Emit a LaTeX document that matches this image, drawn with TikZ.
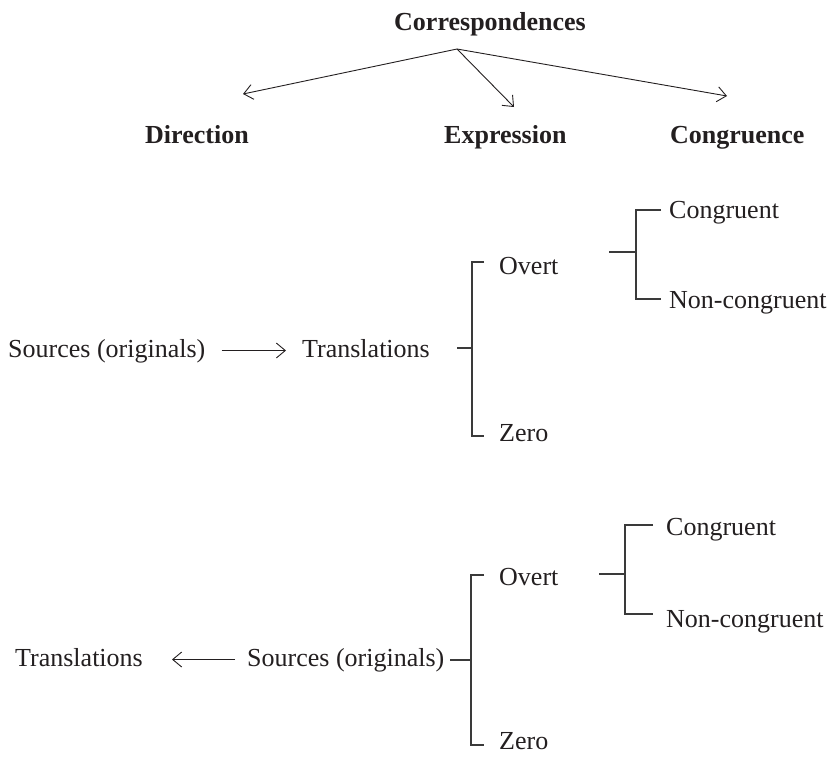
\documentclass[tikz,border=0pt]{standalone}
\usepackage{fontspec}
\setmainfont{Liberation Serif}
\usetikzlibrary{arrows.meta}
\definecolor{ink}{HTML}{231F20}
\definecolor{brk}{HTML}{3A3A3A}
\begin{document}
\begin{tikzpicture}[x=1pt,y=-1pt,
  lab/.style={inner sep=0pt,anchor=base west,text height=18pt,text depth=5pt,
    font=\fontsize{26}{31}\selectfont,text=ink},
  head/.style={lab,font=\fontsize{26}{31}\selectfont\bfseries},
  arr/.style={draw=ink,line width=0.9pt,-{Straight Barb[length=9pt,width=15pt,line width=0.9pt]}},
  brk/.style={draw=brk,line width=1.4pt}]
\useasboundingbox (0,0) rectangle (834,756);

% top
\node[head] (corr) at (394,30) {Correspondences};
\node[head] (dir) at (145,143) {Direction};
\node[head] (expr) at (444,143) {Expression};
\node[head] (cong) at (670,143) {Congruence};
\coordinate (apex) at (457,49);
\coordinate (dirtip) at (243,94);
\coordinate (exptip) at (514,107);
\coordinate (contip) at (727,96);
\draw[arr] (apex) -- (dirtip);
\draw[arr] (apex) -- (exptip);
\draw[arr] (apex) -- (contip);

% upper section
\node[lab] (src1) at (8,357) {Sources (originals)};
\node[lab] (tr1) at (302,357) {Translations};
\draw[arr,shorten <=16pt,shorten >=16pt] (src1.east) -- (tr1.west);
\node[lab] (ov1) at (499,274) {Overt};
\node[lab] (ze1) at (499,441) {Zero};
\node[lab] (co1) at (669,218) {Congruent};
\node[lab] (nc1) at (669,308) {Non-congruent};

\coordinate (b1tick) at (457,348);
\coordinate (b1mid) at (472,348);
\coordinate (b1T) at (484,262);
\coordinate (b1B) at (484,436);
\draw[brk] (b1tick) -- (b1mid);
\draw[brk] (b1T) -| (b1mid) |- (b1B);

\coordinate (b2tick) at (609,252);
\coordinate (b2mid) at (636,252);
\coordinate (b2T) at (661,210);
\coordinate (b2B) at (661,299);
\draw[brk] (b2tick) -- (b2mid);
\draw[brk] (b2T) -| (b2mid) |- (b2B);

% lower section
\node[lab] (tr2) at (15,666) {Translations};
\node[lab] (src2) at (247,666) {Sources (originals)};
\draw[arr,shorten <=12pt,shorten >=29pt] (src2.west) -- (tr2.east);
\node[lab] (ov2) at (499,585) {Overt};
\node[lab] (ze2) at (499,749) {Zero};
\node[lab] (co2) at (666,535) {Congruent};
\node[lab] (nc2) at (666,627) {Non-congruent};

\coordinate (b3tick) at (450,660);
\coordinate (b3mid) at (471,660);
\coordinate (b3T) at (484,575);
\coordinate (b3B) at (484,745);
\draw[brk] (b3tick) -- (b3mid);
\draw[brk] (b3T) -| (b3mid) |- (b3B);

\coordinate (b4tick) at (599,574);
\coordinate (b4mid) at (625,574);
\coordinate (b4T) at (653,525);
\coordinate (b4B) at (653,614);
\draw[brk] (b4tick) -- (b4mid);
\draw[brk] (b4T) -| (b4mid) |- (b4B);
\end{tikzpicture}
\end{document}
